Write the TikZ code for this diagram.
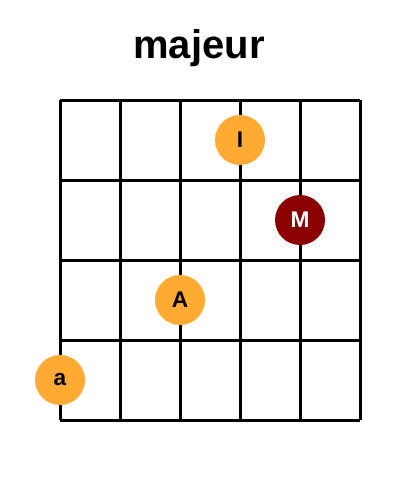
\documentclass[tikz,border=0pt]{standalone}
\usepackage{fontspec}
\setmainfont{Liberation Sans}
\definecolor{dotorange}{HTML}{FFAA33}
\definecolor{dotred}{HTML}{8B0000}
\begin{document}
\begin{tikzpicture} [x=0.75pt, y=-0.75pt, line width=2.25pt,
    finger/.style={circle, fill=dotorange, minimum size=37.5pt, inner sep=0pt, font=\fontsize{17}{19}\selectfont\bfseries},
    root/.style={finger, fill=dotred, text=white}]
  \useasboundingbox (0,0) rectangle (400,500);
  \node (title) at (199,48) {\fontsize{30}{34}\selectfont\bfseries majeur};

  \foreach \x in {60,120,...,360} \draw (\x,100) -- (\x,420);
  \foreach \y in {100,180,...,420} \draw (60,\y) -- (360,\y);

  \node[finger] (dotI) at (240,140) {I};
  \node[root]   (dotM) at (300,220) {M};
  \node[finger] (dotA) at (180,300) {A};
  \node[finger] (dota) at (60,380) {a};
\end{tikzpicture}
\end{document}
